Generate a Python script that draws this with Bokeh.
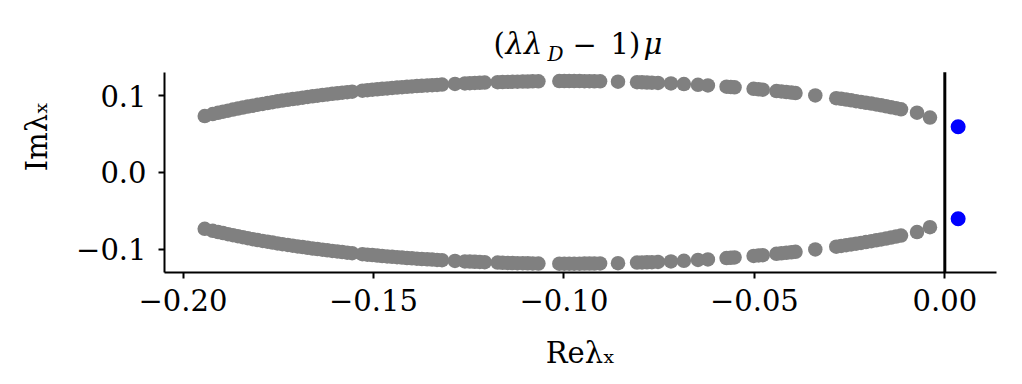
import math
from bokeh.plotting import figure
from bokeh.models import Range1d, FixedTicker, Label
from bokeh.embed import file_html
from bokeh.resources import INLINE

# ---- data ----
re_upper = [-0.1943, -0.1922, -0.1908, -0.1895, -0.1882, -0.1869, -0.1856, -0.1843, -0.1830, -0.1817,
            -0.1804, -0.1791, -0.1778, -0.1765, -0.1752, -0.1739, -0.1725, -0.1712, -0.1699, -0.1686,
            -0.1673, -0.1660, -0.1647, -0.1634, -0.1621, -0.1608, -0.1595, -0.1582, -0.1569, -0.1556,
            -0.1529, -0.1516, -0.1503, -0.1490, -0.1477, -0.1464, -0.1451, -0.1438, -0.1425, -0.1412,
            -0.1399, -0.1386, -0.1373, -0.1359, -0.1346, -0.1333, -0.1320, -0.1286, -0.1260, -0.1247,
            -0.1234, -0.1221, -0.1208, -0.1174, -0.1161, -0.1148, -0.1135, -0.1122, -0.1108, -0.1095,
            -0.1082, -0.1067, -0.1012, -0.0999, -0.0986, -0.0973, -0.0959, -0.0946, -0.0933, -0.0920,
            -0.0905, -0.0858, -0.0808, -0.0795, -0.0782, -0.0769, -0.0753, -0.0719, -0.0685, -0.0648,
            -0.0622, -0.0573, -0.0562, -0.0552, -0.0502, -0.0489, -0.0478, -0.0442, -0.0429, -0.0416,
            -0.0403, -0.0392, -0.0340, -0.0285, -0.0272, -0.0259, -0.0246, -0.0233, -0.0220, -0.0207,
            -0.0193, -0.0180, -0.0167, -0.0154, -0.0141, -0.0128, -0.0115, -0.0073, -0.0039]
im_upper = [0.0735, 0.0761, 0.0777, 0.0791, 0.0805, 0.0819, 0.0832, 0.0845, 0.0858, 0.0870,
            0.0882, 0.0893, 0.0904, 0.0915, 0.0926, 0.0936, 0.0946, 0.0956, 0.0965, 0.0974,
            0.0983, 0.0992, 0.1000, 0.1008, 0.1016, 0.1024, 0.1031, 0.1039, 0.1046, 0.1053,
            0.1066, 0.1072, 0.1078, 0.1084, 0.1090, 0.1095, 0.1101, 0.1106, 0.1111, 0.1116,
            0.1120, 0.1125, 0.1129, 0.1133, 0.1137, 0.1141, 0.1145, 0.1154, 0.1160, 0.1163,
            0.1166, 0.1168, 0.1171, 0.1176, 0.1178, 0.1180, 0.1182, 0.1183, 0.1184, 0.1185,
            0.1187, 0.1188, 0.1190, 0.1190, 0.1190, 0.1190, 0.1190, 0.1189, 0.1189, 0.1188,
            0.1187, 0.1183, 0.1176, 0.1174, 0.1172, 0.1170, 0.1167, 0.1160, 0.1152, 0.1142,
            0.1134, 0.1117, 0.1113, 0.1109, 0.1089, 0.1083, 0.1079, 0.1061, 0.1055, 0.1048,
            0.1041, 0.1035, 0.1004, 0.0968, 0.0959, 0.0949, 0.0939, 0.0929, 0.0919, 0.0908,
            0.0897, 0.0886, 0.0874, 0.0862, 0.0849, 0.0837, 0.0823, 0.0778, 0.0715]
re_lower = list(re_upper)
im_lower = [-0.0735, -0.0761, -0.0777, -0.0791, -0.0805, -0.0819, -0.0832, -0.0845, -0.0858, -0.0870,
            -0.0882, -0.0893, -0.0904, -0.0915, -0.0926, -0.0936, -0.0946, -0.0956, -0.0965, -0.0974,
            -0.0983, -0.0992, -0.1000, -0.1008, -0.1016, -0.1024, -0.1031, -0.1039, -0.1046, -0.1053,
            -0.1066, -0.1072, -0.1078, -0.1084, -0.1090, -0.1095, -0.1101, -0.1106, -0.1111, -0.1116,
            -0.1120, -0.1125, -0.1129, -0.1133, -0.1137, -0.1141, -0.1145, -0.1154, -0.1160, -0.1163,
            -0.1166, -0.1168, -0.1171, -0.1176, -0.1178, -0.1180, -0.1182, -0.1183, -0.1184, -0.1185,
            -0.1187, -0.1188, -0.1190, -0.1190, -0.1190, -0.1190, -0.1190, -0.1189, -0.1189, -0.1188,
            -0.1187, -0.1183, -0.1176, -0.1174, -0.1172, -0.1170, -0.1167, -0.1160, -0.1152, -0.1142,
            -0.1134, -0.1117, -0.1113, -0.1109, -0.1089, -0.1083, -0.1079, -0.1061, -0.1055, -0.1048,
            -0.1041, -0.1035, -0.1004, -0.0968, -0.0959, -0.0949, -0.0939, -0.0929, -0.0919, -0.0908,
            -0.0897, -0.0886, -0.0874, -0.0862, -0.0849, -0.0837, -0.0823, -0.0778, -0.0715]
re_unstable = [0.0035, 0.0035]
im_unstable = [0.0595, -0.0605]

x_ticks = [-0.20, -0.15, -0.10, -0.05, 0.00]
x_tick_labels = ["\u22120.20", "\u22120.15", "\u22120.10", "\u22120.05", "0.00"]
y_ticks = [-0.1, 0.0, 0.1]
y_tick_labels = ["\u22120.1", "0.0", "0.1"]
x_label = "Re\u03bb\u2093"
y_label = "Im\u03bb\u2093"

# axes limits (the visible spines)
X_LO, X_HI = -0.20486, 0.01357
Y_LO, Y_HI = -0.1305, 0.1304
# frame extends upward (title space) so that title labels lie inside it
Y_TOP = 0.2241

FONT = "DejaVu Serif"

p = figure(width=1014, height=376, output_backend="svg", toolbar_location=None,
           x_range=Range1d(X_LO, X_HI), y_range=Range1d(Y_LO, Y_TOP),
           min_border_left=164, min_border_right=18, min_border_top=0, min_border_bottom=104)
p.outline_line_color = None
p.xgrid.visible = False
p.ygrid.visible = False
p.background_fill_color = "white"
p.border_fill_color = "white"

for ax, ticks, labels in ((p.xaxis, x_ticks, x_tick_labels), (p.yaxis, y_ticks, y_tick_labels)):
    ax.ticker = FixedTicker(ticks=ticks)
    ax.major_label_overrides = {t: l for t, l in zip(ticks, labels)}
    ax.minor_tick_line_color = None
    ax.major_tick_in = 0
    ax.major_tick_out = 6
    ax.major_tick_line_width = 2
    ax.axis_line_width = 2
    ax.axis_line_color = "black"
    ax.major_tick_line_color = "black"
    ax.major_label_text_font = FONT
    ax.major_label_text_font_size = "29px"
    ax.major_label_text_color = "black"
    ax.major_label_standoff = 10
    ax.axis_label_text_font = FONT
    ax.axis_label_text_font_size = "29px"
    ax.axis_label_text_font_style = "normal"
    ax.axis_label_text_color = "black"
p.yaxis.major_label_standoff = 12
p.yaxis.bounds = (Y_LO, Y_HI)
p.xaxis.axis_label = x_label
p.yaxis.axis_label = y_label
p.xaxis.axis_label_standoff = 22
p.yaxis.axis_label_standoff = 19

# vertical line at Re = 0 over the axes height
p.segment(x0=[0.0], y0=[Y_LO], x1=[0.0], y1=[Y_HI], line_color="black", line_width=3)

p.scatter(re_upper, im_upper, size=14.5, color="#808080", line_color=None)
p.scatter(re_lower, im_lower, size=14.5, color="#808080", line_color=None)
p.scatter(re_unstable, im_unstable, size=15, color="#0000ff", line_color=None)

# frame: page left 164, page bottom 272
FL, FB = 164, 272

def lab(text, px, py, size="29px", style="normal"):
    p.add_layout(Label(x=px - FL, y=FB - py, x_units="screen", y_units="screen", text=text,
                       text_font=FONT, text_font_size=size, text_font_style=style,
                       text_color="black", text_align="left", text_baseline="alphabetic"))

# title (λλ_D − 1)μ
lab("(", 493, 43)
lab("λλ", 505, 43, style="italic")
lab("D", 547, 53, size="20px", style="italic")
lab("\u2212", 572, 43)
lab("1)", 610, 43)
lab("μ", 643, 43, style="italic")

open("out.html", "w").write(file_html(p, INLINE))
